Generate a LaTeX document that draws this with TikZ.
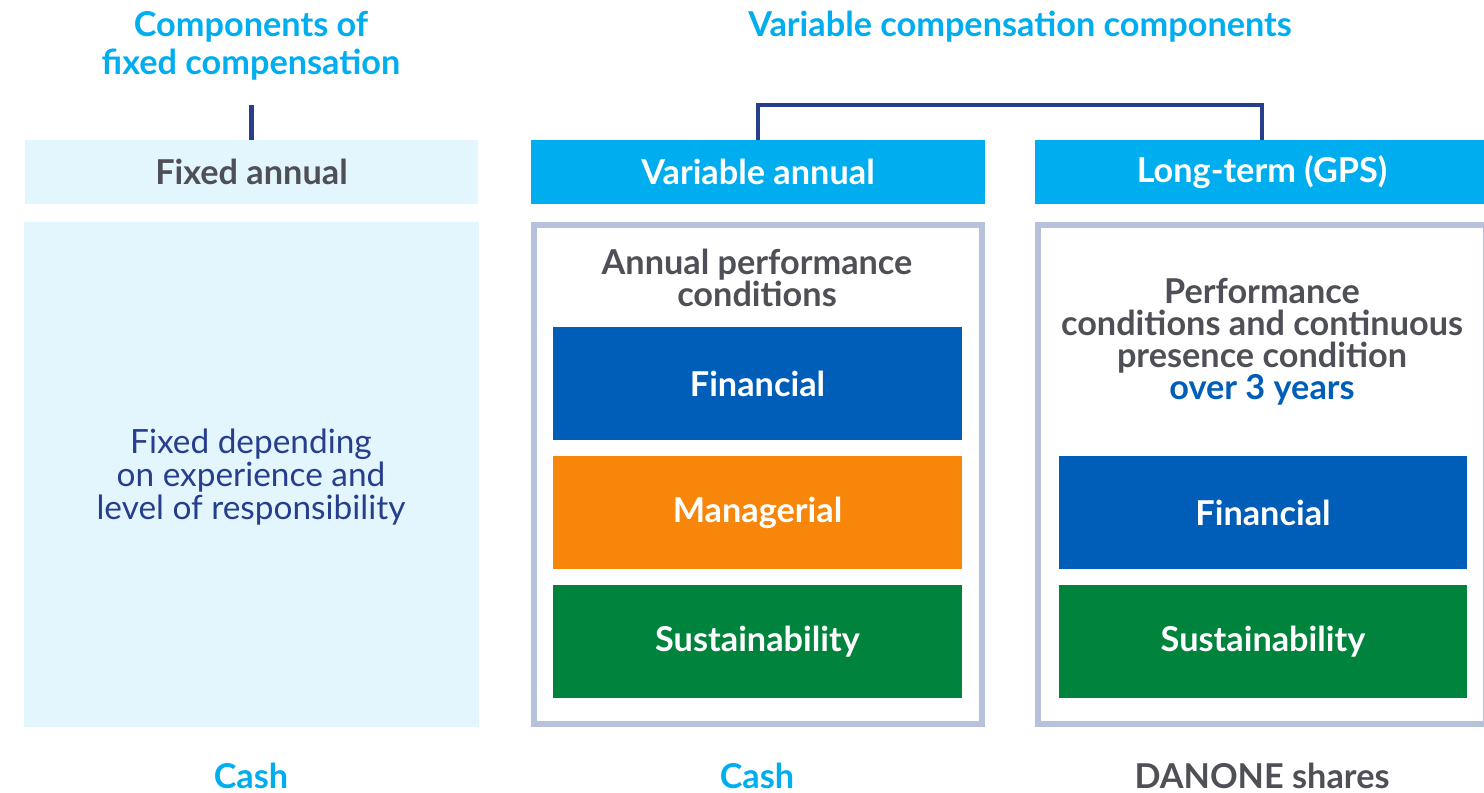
\documentclass[tikz,border=0pt]{standalone}
\usepackage{fontspec}
\setmainfont{Lato}
\usetikzlibrary{positioning}
\definecolor{paycyan}{HTML}{00ADEF}
\definecolor{txtgray}{HTML}{4F4F57}
\definecolor{navy}{HTML}{263E8C}
\definecolor{paleblue}{HTML}{E3F6FD}
\definecolor{framegray}{HTML}{B7C1DB}
\definecolor{finblue}{HTML}{005EB8}
\definecolor{mgorange}{HTML}{F7860A}
\definecolor{susgreen}{HTML}{00843D}

\begin{document}
\begin{tikzpicture}[x=0.02cm,y=-0.02cm,
		bold/.style={font=\bfseries\fontsize{19.5}{21.5}\selectfont,align=center},
		ttl/.style={bold,text=paycyan},
		head/.style={bold,inner sep=0pt,minimum width=9.08cm,minimum height=1.28cm},
		frame/.style={draw=framegray,line width=3.4pt,inner sep=0pt,minimum width=8.96cm,minimum height=9.98cm},
		cond/.style={font=\bfseries\fontsize{19.5}{18.2}\selectfont,align=center,text=txtgray},
		crit/.style={bold,text=white,inner sep=0pt,minimum width=8.18cm,minimum height=2.26cm},
		pay/.style={bold,inner sep=1pt},
		link/.style={draw=navy,line width=2.8pt}]
	\useasboundingbox (0,0) rectangle (1484,793);
	\clip (0,0) rectangle (1484,793);

	% titles
	\node[ttl] (ttlfix) at (251,46) {Components of\\fixed compensation};
	\node[ttl] (ttlvar) at (1020,27) {Variable compensation components};

	% headers
	\node[head,fill=paleblue,text=txtgray] (hfix) at (251.5,172) {Fixed annual};
	\node[head,fill=paycyan,text=white] (hvar) at (758,172) {Variable annual};
	\node[head,fill=paycyan,text=white] (hlt) at (1262,172) {Long-term (GPS)};

	% bodies
	\node[fill=paleblue,inner sep=0pt,minimum width=9.1cm,minimum height=10.1cm] (bfix) at (251.5,474.5) {};
	\node[font=\fontsize{19}{18.7}\selectfont,align=center,text=navy] (txtfix) at (251,477) {Fixed depending\\on experience and\\level of responsibility};
	\node[frame] (fvar) at (758,474.5) {};
	\node[frame] (flt) at (1262,474.5) {};

	\node[cond] (cvar) at (757,278) {Annual performance\\conditions};
	\node[cond] (clt) at (1262,342) {Performance\\conditions and continuous\\presence condition\\\textcolor{finblue}{over 3 years}};

	\node[crit,fill=finblue] (vfin) at (757.5,383.5) {Financial};
	\node[crit,fill=mgorange] (vman) at (757.5,512.5) {Managerial};
	\node[crit,fill=susgreen] (vsus) at (757.5,641.5) {Sustainability};
	\node[crit,fill=finblue] (lfin) at (1263,512.5) {Financial};
	\node[crit,fill=susgreen] (lsus) at (1263,641.5) {Sustainability};

	% payment
	\node[pay,text=paycyan] (payfix) at (251,776) {Cash};
	\node[pay,text=paycyan] (payvar) at (757,776) {Cash};
	\node[pay,text=txtgray] (paylt) at (1262,776) {DANONE shares};

	% connectors
	\coordinate (fixtop) at (251.5,105);
	\coordinate (bracktop) at (1010,105);
	\draw[link] (fixtop) -- (hfix.north);
	\draw[link] (hvar.north) |- (bracktop) -| (hlt.north);
\end{tikzpicture}
\end{document}
